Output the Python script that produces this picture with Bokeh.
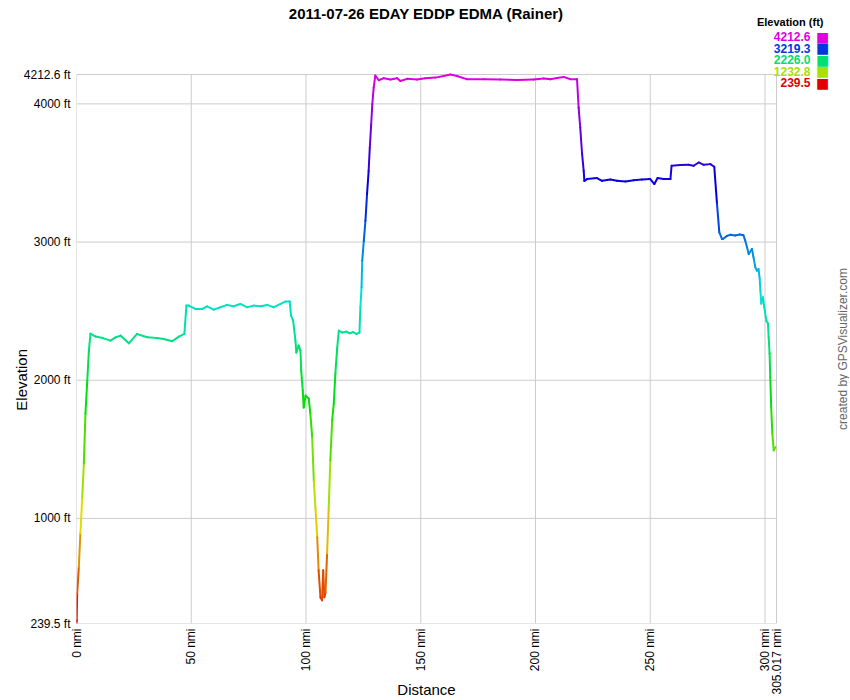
import math
import colorsys
from bokeh.plotting import figure
from bokeh.models import Range1d, FixedTicker, Label, ColumnDataSource, LinearColorMapper, LinearAxis
from bokeh.embed import file_html
from bokeh.resources import INLINE

# ---------------- data ----------------
dist_nmi = [
    0.0, 0.1, 0.3, 1.0, 1.7, 2.5, 3.2, 3.9, 4.7, 5.4, 6.1,
    8.3, 11.5, 14.8, 17.0, 19.2, 22.8, 26.4, 30.8, 35.1, 38.0, 41.7, 44.6, 47.0,
    47.9, 48.9, 51.8, 54.8, 56.9, 59.8, 62.7, 65.6, 68.5, 71.4, 74.4, 77.2, 80.2,
    83.1, 85.9, 88.9, 91.0, 92.9, 93.5,
    94.4, 95.4, 95.8, 96.8, 97.6, 97.9, 98.6, 99.0, 99.8, 101.2, 101.9, 102.7,
    103.4, 104.1, 104.9, 105.5, 106.3, 107.0, 107.5, 108.0, 108.5, 109.2, 109.9,
    110.6, 111.4, 112.1, 112.8, 113.6, 114.3,
    115.8, 117.5, 119.0, 120.5, 122.0, 123.3,
    123.7, 124.2, 124.5, 125.2, 125.9, 126.6, 127.3, 127.8, 128.4, 128.9, 129.5, 130.2,
    131.7, 133.9, 136.8, 139.7, 141.1, 144.1, 148.4, 152.0, 156.4, 160.0, 162.9,
    165.8, 168.0, 170.2, 177.4, 184.7, 192.0, 199.2, 203.6, 206.5, 209.4, 212.3,
    215.2, 218.1,
    218.8, 219.5, 220.3, 221.0, 221.3,
    222.5, 226.8, 229.0, 232.6, 235.5, 239.2, 242.8, 246.4, 250.0, 251.8, 253.2,
    255.8, 258.8,
    259.3, 263.1, 266.7, 268.9, 271.1, 273.3, 276.2, 277.9,
    279.1, 280.1, 281.3, 281.8, 283.5, 284.9, 287.0, 289.0, 290.6, 291.4, 292.2,
    292.9, 294.3, 295.0, 295.8, 296.5, 297.2, 297.7, 298.0, 298.4, 299.1, 299.7,
    300.6, 301.3, 301.6, 302.0, 302.3, 302.7, 303.2, 303.8, 304.5,
]
elev_ft = [
    239.5, 262, 458, 646, 892, 1152, 1398, 1759, 1998, 2214, 2337,
    2316, 2305, 2287, 2310, 2323, 2267, 2335, 2311, 2306, 2299, 2282, 2316, 2335,
    2540, 2540, 2516, 2516, 2535, 2511, 2528, 2545, 2535, 2552, 2528, 2540, 2535,
    2545, 2528, 2552, 2569, 2569, 2467,
    2431, 2287, 2200, 2251, 2214, 2070, 1925, 1802, 1889, 1867, 1759, 1586,
    1275, 1079, 863, 624, 429, 407, 624, 429, 465, 747, 1079,
    1419, 1708, 1831, 2048, 2236, 2359,
    2345, 2352, 2340, 2348, 2335, 2345,
    2527, 2672, 2865, 3010, 3154, 3347, 3516, 3684, 3853, 3998, 4118, 4205,
    4171, 4186, 4176, 4186, 4166, 4181, 4176, 4186, 4190, 4202, 4212.6,
    4202, 4190, 4178, 4178, 4176, 4173, 4176, 4183, 4178, 4188, 4195,
    4178, 4178,
    3973, 3829, 3639, 3516, 3443,
    3456, 3463, 3443, 3453, 3443, 3439, 3448, 3453, 3456, 3420, 3463,
    3456, 3456,
    3552, 3557, 3559, 3552, 3576, 3559, 3564, 3545,
    3275, 3070, 3022, 3024, 3045, 3053, 3048, 3055, 3050, 3010, 2961,
    2913, 2950, 2889, 2817, 2793, 2805, 2733, 2648, 2554, 2600, 2527,
    2431, 2410, 2311, 2193, 2021, 1805, 1614, 1492, 1515,
]

x_ticks = [0, 50, 100, 150, 200, 250, 300, 305.017]
x_tick_labels = ["0 nmi", "50 nmi", "100 nmi", "150 nmi", "200 nmi", "250 nmi", "300 nmi", "305.017 nmi"]
y_ticks = [239.5, 1000, 2000, 3000, 4000, 4212.6]
y_tick_labels = ["239.5 ft", "1000 ft", "2000 ft", "3000 ft", "4000 ft", "4212.6 ft"]
legend_values = [4212.6, 3219.3, 2226.0, 1232.8, 239.5]
legend_labels = ["4212.6", "3219.3", "2226.0", "1232.8", "239.5"]

title_text = "2011-07-26 EDAY EDDP EDMA (Rainer)"
credit_text = "created by GPSVisualizer.com"
x_title = "Distance"
y_title = "Elevation"
y_min, y_max = 239.5, 4212.6
x_min, x_max = 0.0, 305.017

FONT = "Liberation Sans"

# ---------------- layout (pixels) ----------------
# chart area: 700 x 549 px, its top-left at (76, 74) on the canvas.
# the Bokeh frame is widened up to the right/top canvas edge so that the
# title, legend and credit (drawn as frame annotations) stay visible.
CHART_W, CHART_H = 700, 549
LEFT, TOP = 76, 74
FRAME_W, FRAME_H = 773, 623          # frame spans x 76..849, y 0..623
BOTTOM = 76                          # canvas height 699

x_end = x_min + (x_max - x_min) * FRAME_W / CHART_W
y_end = y_min + (y_max - y_min) * FRAME_H / CHART_H
x_mid = (x_min + x_max) / 2.0
y_mid = (y_min + y_max) / 2.0


def hue_color(frac):
    frac = max(0.0, min(1.0, frac))
    r, g, b = colorsys.hsv_to_rgb(frac * 300.0 / 360.0, 1.0, 0.88)
    return "#%02x%02x%02x" % (int(r * 255 + 0.5), int(g * 255 + 0.5), int(b * 255 + 0.5))


palette = [hue_color(i / 255.0) for i in range(256)]
mapper = LinearColorMapper(palette=palette, low=y_min, high=y_max)

seg = ColumnDataSource(dict(
    x0=dist_nmi[:-1], y0=elev_ft[:-1], x1=dist_nmi[1:], y1=elev_ft[1:],
    mid=[(a + b) / 2.0 for a, b in zip(elev_ft[:-1], elev_ft[1:])],
))

p = figure(
    frame_width=FRAME_W, frame_height=FRAME_H,
    min_border_left=LEFT, min_border_right=0, min_border_top=0, min_border_bottom=BOTTOM,
    x_range=Range1d(x_min, x_end), y_range=Range1d(y_min, y_end),
    output_backend="svg", toolbar_location=None, tools="",
)
p.background_fill_color = "white"
p.border_fill_color = "white"
p.outline_line_color = None
p.xgrid.grid_line_color = None
p.ygrid.grid_line_color = None


def style_axis(ax, size="12px"):
    ax.axis_line_color = None
    ax.major_tick_line_color = None
    ax.minor_tick_line_color = None
    ax.major_tick_out = 0
    ax.major_tick_in = 0
    ax.minor_tick_out = 0
    ax.minor_tick_in = 0
    ax.major_label_text_font = FONT
    ax.major_label_text_font_size = size
    ax.major_label_text_color = "#000000"


xa = p.xaxis[0]
style_axis(xa)
xa.ticker = FixedTicker(ticks=x_ticks, minor_ticks=[])
xa.major_label_overrides = {t: l for t, l in zip(x_ticks, x_tick_labels)}
xa.major_label_orientation = math.pi / 2
xa.major_label_standoff = 5

ya = p.yaxis[0]
style_axis(ya)
ya.ticker = FixedTicker(ticks=y_ticks, minor_ticks=[])
ya.major_label_overrides = {t: l for t, l in zip(y_ticks, y_tick_labels)}
ya.major_label_standoff = 6

# axis titles: a single labelled tick at the middle of the chart area
xt = LinearAxis(ticker=FixedTicker(ticks=[x_mid], minor_ticks=[]),
                major_label_overrides={x_mid: x_title})
style_axis(xt, "15px")
xt.major_label_standoff = -17
p.add_layout(xt, "below")

yt = LinearAxis(ticker=FixedTicker(ticks=[y_mid], minor_ticks=[]),
                major_label_overrides={y_mid: y_title})
style_axis(yt, "15px")
yt.major_label_orientation = math.pi / 2
yt.major_label_standoff = -1
p.add_layout(yt, "left")

# grid lines at the tick values, limited to the chart area
p.segment(x0=x_ticks, y0=[y_min] * len(x_ticks), x1=x_ticks, y1=[y_max] * len(x_ticks),
          line_color="#cccccc", line_width=1)
p.segment(x0=[x_min] * len(y_ticks), y0=y_ticks, x1=[x_max] * len(y_ticks), y1=y_ticks,
          line_color="#cccccc", line_width=1)

# elevation profile, coloured by elevation
p.segment("x0", "y0", "x1", "y1", source=seg, line_width=2, line_cap="round",
          line_color={"field": "mid", "transform": mapper})


def scr_x(px):
    return px - LEFT


def scr_y(py):
    return FRAME_H - py


p.add_layout(Label(x=scr_x(LEFT + CHART_W / 2), y=scr_y(13), x_units="screen", y_units="screen",
                   text=title_text, text_font=FONT, text_font_style="bold", text_font_size="15px",
                   text_align="center", text_baseline="middle", text_color="#000000"))
p.add_layout(Label(x=scr_x(842), y=scr_y(TOP + CHART_H / 2), x_units="screen", y_units="screen",
                   text=credit_text, angle=math.pi / 2, text_font=FONT, text_font_size="12px",
                   text_align="center", text_baseline="middle", text_color="#666666"))
p.add_layout(Label(x=scr_x(823), y=scr_y(21), x_units="screen", y_units="screen",
                   text="Elevation (ft)", text_font=FONT, text_font_style="bold",
                   text_font_size="11px", text_align="right", text_baseline="middle",
                   text_color="#000000"))
for i, (v, lab) in enumerate(zip(legend_values, legend_labels)):
    c = hue_color((v - y_min) / (y_max - y_min))
    py = 36 + i * 11.5
    p.add_layout(Label(x=scr_x(810), y=scr_y(py), x_units="screen", y_units="screen", text=lab,
                       text_font=FONT, text_font_style="bold", text_font_size="12px",
                       text_align="right", text_baseline="middle", text_color=c))
    p.add_layout(Label(x=scr_x(822), y=scr_y(py), x_units="screen", y_units="screen",
                       text="\u25a0", text_font="DejaVu Sans", text_font_size="14px",
                       text_align="center", text_baseline="middle", text_color=c))

open("out.html", "w").write(file_html(p, INLINE))
